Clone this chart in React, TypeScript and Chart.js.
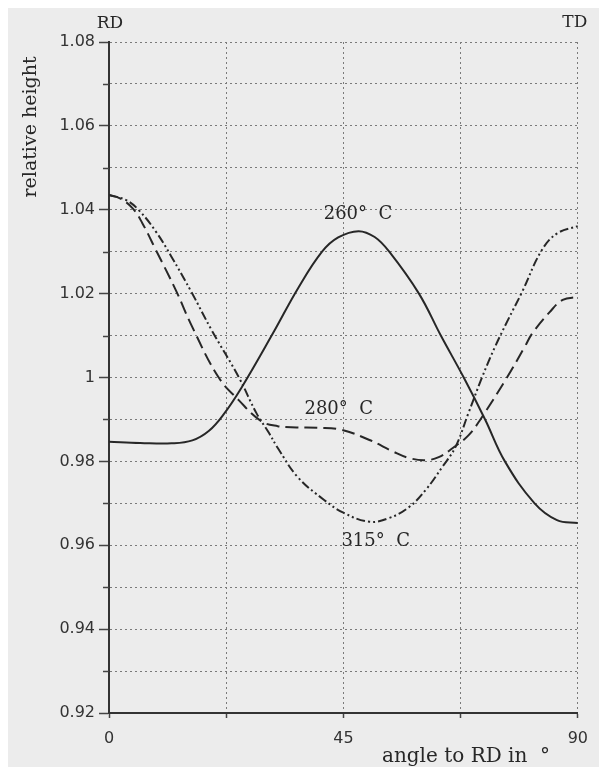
import { useEffect, useRef } from "react";
import { Chart, registerables } from "chart.js";

Chart.register(...registerables);

// Angle to RD (degrees) and relative height for each temperature
const angles260 = [0, 6, 12, 16, 19.2, 22, 25.4, 31.5, 36.3, 40.9, 44, 47.9, 51, 53.8, 59.5, 63.7, 68.1, 72.2, 76, 81.7, 86, 90];
const values260 = [0.9847, 0.9844, 0.9843, 0.985, 0.9873, 0.9912, 0.9975, 1.0106, 1.0213, 1.03, 1.0334, 1.0349, 1.0335, 1.03, 1.02, 1.01, 1.0, 0.99, 0.98, 0.97, 0.966, 0.9653];

const angles280 = [0, 2, 4.5, 6.4, 9, 12.8, 16, 21, 24.9, 29.2, 32.4, 36, 40, 44.4, 50, 54.6, 57.6, 60.8, 63.3, 66, 69, 71.3, 76.4, 79.8, 81.3, 84.6, 87.1, 90];
const values280 = [1.0435, 1.0428, 1.0404, 1.0368, 1.0304, 1.0209, 1.012, 1.0001, 0.9946, 0.9896, 0.9884, 0.9881, 0.988, 0.9876, 0.9851, 0.9823, 0.9808, 0.9803, 0.981, 0.9832, 0.9862, 0.99, 1.0, 1.0073, 1.0106, 1.0156, 1.0185, 1.0192];

const angles315 = [0, 3.3, 5.8, 9, 11.9, 15.9, 19.7, 24.9, 28.3, 30.6, 32.4, 36.2, 41.3, 45.1, 50, 53.8, 57.6, 60.8, 64, 66.5, 69, 71.6, 74.1, 76.5, 79.3, 83.1, 86.1, 90];
const values315 = [1.0435, 1.0423, 1.0398, 1.0348, 1.029, 1.0202, 1.0113, 1.0001, 0.9915, 0.987, 0.9832, 0.9763, 0.9708, 0.9677, 0.9656, 0.9665, 0.9691, 0.9732, 0.9787, 0.9834, 0.9915, 1.0, 1.0073, 1.0135, 1.0204, 1.0304, 1.0344, 1.0361];

// Curve labels: text and anchor in data coordinates
const curveLabels = ["260°  C", "280°  C", "315°  C"];
const curveLabelAngles = [47.8, 44.1, 51.2];
const curveLabelValues = [1.039, 0.9925, 0.961];

const xTickLabels = [0, 45, 90];
const yMin = 0.92;
const yMax = 1.08;

const INK = "#272727";

const toPoints = (xs: number[], ys: number[]) => xs.map((x, i) => ({ x, y: ys[i] }));

const isMajorY = (v: number) => Math.round(v * 100) % 2 === 0;

const annotations = {
  id: "annotations",
  afterDraw(chart: any) {
    const { ctx, chartArea, scales } = chart;
    const xs = scales.x;
    const ys = scales.y;
    ctx.save();
    // minor ticks on the y axis
    ctx.strokeStyle = "#444";
    ctx.lineWidth = 1.5;
    ys.ticks.forEach((t: any) => {
      if (!isMajorY(t.value)) {
        const py = Math.round(ys.getPixelForValue(t.value)) + 0.5;
        ctx.beginPath();
        ctx.moveTo(chartArea.left - 6, py);
        ctx.lineTo(chartArea.left, py);
        ctx.stroke();
      }
    });
    ctx.fillStyle = INK;
    ctx.textBaseline = "middle";
    ctx.textAlign = "center";
    ctx.font = '17px "DejaVu Serif"';
    ctx.fillText("RD", xs.getPixelForValue(0) + 1, chartArea.top - 18);
    ctx.fillText("TD", xs.getPixelForValue(90) - 3, chartArea.top - 19);

    ctx.font = '18px "DejaVu Serif"';
    curveLabels.forEach((txt, i) => {
      ctx.fillText(txt, xs.getPixelForValue(curveLabelAngles[i]), ys.getPixelForValue(curveLabelValues[i]));
    });

    // y axis title
    ctx.save();
    ctx.translate(23, 119);
    ctx.rotate(-Math.PI / 2);
    ctx.font = '19px "DejaVu Serif"';
    ctx.fillText("relative height", 0, 0);
    ctx.restore();

    // x axis title
    ctx.textAlign = "left";
    ctx.textBaseline = "alphabetic";
    ctx.font = '20px "DejaVu Serif"';
    ctx.fillText("angle to RD in  °", 374, 754);
    ctx.restore();
  },
};

export default function App() {
  const ref = useRef<HTMLCanvasElement>(null);
  useEffect(() => {
    if (!ref.current) return;
    const lineBase = {
      borderColor: INK,
      borderWidth: 2,
      pointRadius: 0,
      fill: false,
      tension: 0.4,
    };
    const chart = new Chart(ref.current, {
      type: "line",
      data: {
        datasets: [
          { ...lineBase, label: "260° C", data: toPoints(angles260, values260) },
          { ...lineBase, label: "280° C", data: toPoints(angles280, values280), borderDash: [13, 6] },
          { ...lineBase, label: "315° C", data: toPoints(angles315, values315), borderDash: [9, 3, 2, 3, 2, 3] },
        ],
      },
      options: {
        animation: false,
        responsive: false,
        layout: { padding: { top: 34, right: 16, left: 0, bottom: 0 } },
        plugins: { legend: { display: false }, tooltip: { enabled: false } },
        scales: {
          x: {
            type: "linear",
            min: 0,
            max: 90,
            afterFit: (s: any) => {
              s.height = 54;
            },
            ticks: {
              stepSize: 22.5,
              padding: 11,
              maxRotation: 0,
              autoSkip: false,
              color: "#333",
              font: { family: "DejaVu Sans", size: 16 },
              callback: (v: any) => (xTickLabels.includes(Number(v)) ? String(v) : ""),
            },
            grid: {
              color: "#7a7a7a",
              lineWidth: 1,
              tickLength: 5,
              tickColor: "#444",
              tickWidth: 1.5,
            },
            border: { display: true, color: "#333", width: 2, dash: [2, 3] },
          },
          y: {
            type: "linear",
            min: yMin,
            max: yMax,
            afterFit: (s: any) => {
              s.width = 101;
            },
            ticks: {
              stepSize: 0.01,
              padding: 4,
              autoSkip: false,
              color: "#333",
              font: { family: "DejaVu Sans", size: 16 },
              callback: (v: any) => (isMajorY(Number(v)) ? String(Math.round(Number(v) * 100) / 100) : ""),
            },
            grid: {
              color: "#7a7a7a",
              lineWidth: 1,
              tickLength: 10,
              tickWidth: 1.5,
              tickColor: (c: any) => (c.tick && isMajorY(c.tick.value) ? "#444" : "rgba(0,0,0,0)"),
            },
            border: { display: true, color: "#333", width: 2, dash: [2, 3] },
          },
        },
      },
      plugins: [annotations],
    });
    return () => chart.destroy();
  }, []);
  return (
    <div
      style={{
        position: "absolute",
        left: 8,
        top: 8,
        width: 591,
        height: 759,
        background: "#ececec",
        overflow: "hidden",
      }}
    >
      <canvas ref={ref} width={591} height={759} style={{ display: "block" }} />
    </div>
  );
}
